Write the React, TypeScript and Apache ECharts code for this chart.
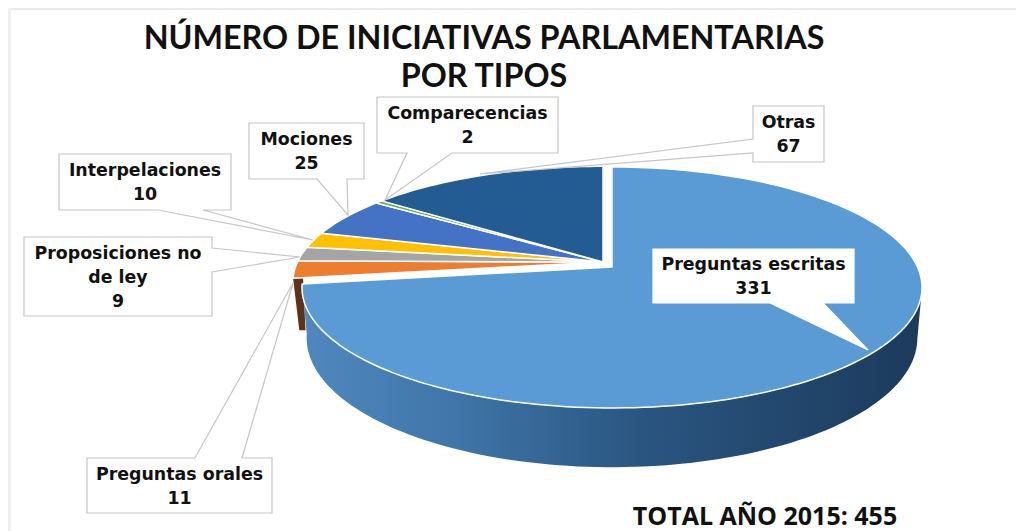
import React, { useEffect, useRef } from "react";
import * as echarts from "echarts";

const categories = ["Preguntas escritas", "Preguntas orales", "Proposiciones no\nde ley", "Interpelaciones", "Mociones", "Comparecencias", "Otras"];
const values = [331, 11, 9, 10, 25, 2, 67];
const colors = ["#5b9bd5", "#ed7d31", "#a5a5a5", "#ffc000", "#4472c4", "#70ad47", "#225c93"];
const titleText = "NÚMERO DE INICIATIVAS PARLAMENTARIAS\nPOR TIPOS";
const totalText = "TOTAL AÑO 2015: 455";

// Projection of the pie disc onto the page
const K = 0.17;
const W = 305.5;
const H = 117;
const FLOOR_H = 125.5;
const FLOOR_DY = 49;
const MAIN_ORIGIN = [612, 267];
const REST_ORIGIN = [603, 262];
const REST_H = 112;

// Callout boxes: [left, top, right, bottom], wedge base on a side, wedge tip
type Box = { box: number[]; side: "top" | "bottom" | "left" | "right"; a: number; b: number; tip: number[]; border: boolean };
const boxes: Box[] = [
  { box: [653, 249, 854, 303], side: "bottom", a: 770, b: 823, tip: [868, 350], border: false },
  { box: [87, 458, 272, 513], side: "top", a: 195, b: 242, tip: [293, 283], border: true },
  { box: [24, 237, 212, 316], side: "right", a: 248, b: 272, tip: [300, 257], border: true },
  { box: [59, 154, 231, 210], side: "bottom", a: 158, b: 203, tip: [313, 240], border: true },
  { box: [249, 123, 364, 179], side: "bottom", a: 317, b: 347, tip: [348, 215], border: true },
  { box: [377, 97, 558, 153], side: "bottom", a: 407, b: 452, tip: [385, 200], border: true },
  { box: [753, 106, 824, 162], side: "left", a: 139, b: 153, tip: [480, 174], border: true },
];

const total = values.reduce((s, v) => s + v, 0);
const starts: number[] = [];
values.reduce((acc, v, i) => {
  starts[i] = acc;
  return acc + (v / total) * 360;
}, 0);
const ends = values.map((v, i) => starts[i] + (v / total) * 360);

function project(deg: number, origin: number[], h: number, wScale = 1, dy = 0) {
  const a = (deg * Math.PI) / 180;
  const u = Math.sin(a);
  const v = -Math.cos(a);
  const w = 1 - K * v;
  return [origin[0] + (W * wScale * u) / w, origin[1] + (h * v) / w + dy];
}

function arcPoints(from: number, to: number, origin: number[], h: number, wScale = 1, dy = 0) {
  const pts: number[][] = [];
  const n = Math.max(2, Math.ceil((to - from) / 1.5));
  for (let i = 0; i <= n; i++) pts.push(project(from + ((to - from) * i) / n, origin, h, wScale, dy));
  return pts;
}

function calloutPoints(c: Box) {
  const [l, t, r, b] = c.box;
  const pts: number[][] = [[l, t]];
  if (c.side === "top") pts.push([c.a, t], c.tip, [c.b, t]);
  pts.push([r, t]);
  if (c.side === "right") pts.push([r, c.a], c.tip, [r, c.b]);
  pts.push([r, b]);
  if (c.side === "bottom") pts.push([c.b, b], c.tip, [c.a, b]);
  pts.push([l, b]);
  if (c.side === "left") pts.push([l, c.b], c.tip, [l, c.a]);
  return pts;
}

const LABEL_FONT = "'DejaVu Sans', sans-serif";

export default function App() {
  const ref = useRef<HTMLDivElement>(null);
  useEffect(() => {
    const chart = echarts.init(ref.current!, undefined, { renderer: "svg" });
    const sideGradient = new echarts.graphic.LinearGradient(0, 0, 1, 0, [
      { offset: 0, color: "#5088bf" },
      { offset: 0.25, color: "#3f75a8" },
      { offset: 0.55, color: "#2a5580" },
      { offset: 1, color: "#1c3a5c" },
    ]);
    chart.setOption({
      animation: false,
      backgroundColor: "#ffffff",
      graphic: [
        { type: "rect", z: 0, silent: true, shape: { x: 8, y: 8, width: 1008, height: 2 }, style: { fill: "#ebebeb" } },
        { type: "rect", z: 0, silent: true, shape: { x: 8, y: 8, width: 3, height: 523 }, style: { fill: "#f0f0f0" } },
      ],
      title: [
        {
          text: titleText,
          left: 479,
          top: 12,
          textAlign: "center",
          textStyle: { fontFamily: "Lato, sans-serif", fontWeight: 700, fontSize: 32.3, lineHeight: 38, color: "#111111" },
        },
        {
          text: totalText,
          left: 760,
          top: 497,
          textAlign: "center",
          textStyle: { fontFamily: "'Open Sans', sans-serif", fontWeight: 700, fontSize: 25, color: "#111111" },
        },
      ],
      series: [
        {
          // depth walls: orange first, the main slice over it
          type: "custom",
          coordinateSystem: "none",
          z: 2,
          silent: true,
          data: [1, 0],
          renderItem: (_p: any, api: any) => {
            const i = api.value(0);
            if (i === 1) {
              const a = starts[1];
              return {
                type: "polygon",
                shape: {
                  points: [
                    project(a, REST_ORIGIN, REST_H),
                    project(a, REST_ORIGIN, REST_H, 0.968),
                    project(a, REST_ORIGIN, REST_H, 0.96, 52),
                    project(a, REST_ORIGIN, REST_H, 0.98, 52),
                  ],
                },
                style: { fill: "#5e3216" },
              };
            }
            const from = 100;
            const top = arcPoints(from, ends[0], MAIN_ORIGIN, H);
            const bot = arcPoints(from, ends[0], MAIN_ORIGIN, FLOOR_H, 0.985, FLOOR_DY);
            return { type: "polygon", shape: { points: [...top, ...bot.reverse()] }, style: { fill: sideGradient } };
          },
        },
        {
          type: "custom",
          coordinateSystem: "none",
          z: 3,
          silent: true,
          data: values,
          renderItem: (p: any) => {
            const i = p.dataIndex;
            const origin = i === 0 ? MAIN_ORIGIN : REST_ORIGIN;
            const h = i === 0 ? H : REST_H;
            return {
              type: "polygon",
              shape: { points: [origin, ...arcPoints(starts[i], ends[i], origin, h)] },
              style: { fill: colors[i], stroke: "#ffffff", lineWidth: 1.5, lineJoin: "round" },
            };
          },
        },
        {
          type: "custom",
          coordinateSystem: "none",
          z: 4,
          silent: true,
          data: values,
          renderItem: (p: any) => {
            const i = p.dataIndex;
            const c = boxes[i];
            return {
              type: "group",
              children: [
                {
                  type: "polygon",
                  shape: { points: calloutPoints(c) },
                  style: { fill: "#ffffff", stroke: c.border ? "#c6c6c6" : "#ffffff", lineWidth: 1.2 },
                },
                {
                  type: "text",
                  x: (c.box[0] + c.box[2]) / 2,
                  y: (c.box[1] + c.box[3]) / 2,
                  style: {
                    text: `${categories[i]}\n${values[i]}`,
                    fontFamily: LABEL_FONT,
                    fontWeight: 700,
                    fontSize: 17.4,
                    lineHeight: 24,
                    fill: "#111111",
                    align: "center",
                    verticalAlign: "middle",
                  },
                },
              ],
            };
          },
        },
      ],
    });
    return () => chart.dispose();
  }, []);
  return <div ref={ref} style={{ position: "absolute", left: 0, top: 0, width: 1016, height: 531 }} />;
}
